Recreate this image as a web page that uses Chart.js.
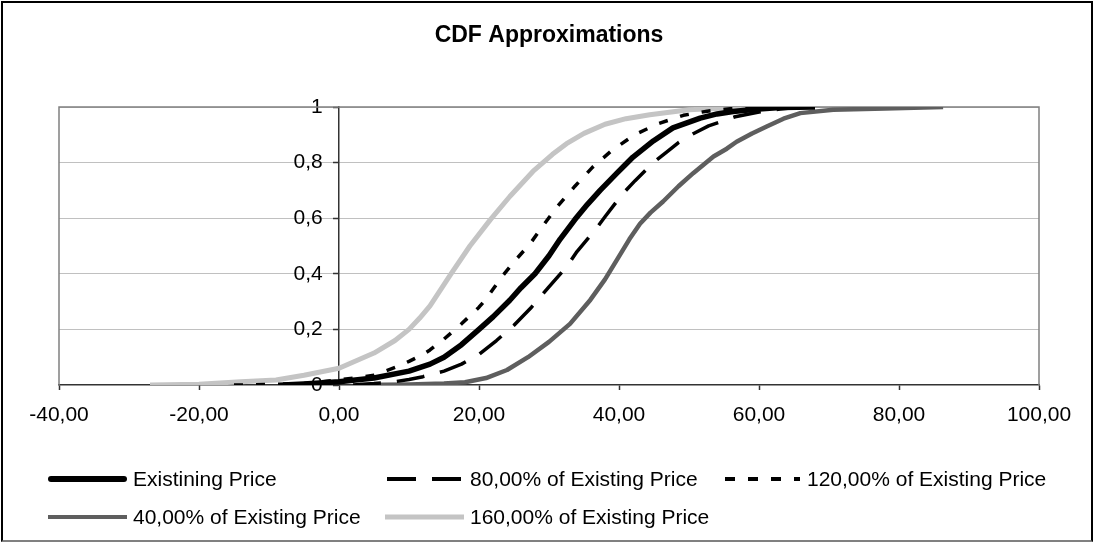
<!DOCTYPE html>
<html><head><meta charset="utf-8">
<script src="https://cdn.jsdelivr.net/npm/chart.js@4.4.1/dist/chart.umd.min.js"></script>
<style>
html,body{margin:0;padding:0;background:#fff;}
#wrap{position:relative;width:1094px;height:543px;overflow:hidden;font-family:'Liberation Sans',Arial,sans-serif;}
#frame{position:absolute;left:1px;top:1px;width:1092px;height:541px;box-sizing:border-box;border:2px solid #000;border-bottom-color:#808080;pointer-events:none;}
canvas{position:absolute;left:0;top:0;}
.lg{position:absolute;font-size:21px;line-height:24px;color:#000;white-space:nowrap;}
svg.s{position:absolute;overflow:visible;}
</style></head><body>
<div id="wrap"><canvas id="c" width="1094" height="543"></canvas><div id="legend"></div><div id="frame"></div></div>
<script>
// ---- data ----
const chartTitle = 'CDF Approximations';
const seriesNames = ['Existining Price', '80,00% of Existing Price', '120,00% of Existing Price', '40,00% of Existing Price', '160,00% of Existing Price'];
const xTickLabels = ['-40,00', '-20,00', '0,00', '20,00', '40,00', '60,00', '80,00', '100,00'];
const yTickLabels = ['0', '0,2', '0,4', '0,6', '0,8', '1'];

const existingX = [-8, -5, 0, 5, 10, 13, 15, 17.5, 20, 22, 24.4, 26, 28, 30, 31.6, 33.7, 35.5, 37.3, 39.7, 41, 42, 44.9, 47.7, 51.6, 54, 56.3, 60, 63, 68];
const existingY = [0, 0.004, 0.012, 0.025, 0.05, 0.075, 0.10, 0.145, 0.20, 0.245, 0.305, 0.35, 0.40, 0.465, 0.525, 0.595, 0.65, 0.70, 0.762, 0.795, 0.82, 0.878, 0.925, 0.96, 0.975, 0.984, 0.993, 0.998, 1];

const p80X = [2, 5, 8, 10, 12, 15, 17.5, 20, 22.5, 25, 27.5, 29.9, 32.5, 34, 36.6, 38, 40.4, 42.3, 44.9, 46.8, 48.5, 50.6, 52.8, 56.6, 60, 63, 66];
const p80Y = [0, 0.005, 0.012, 0.02, 0.03, 0.05, 0.075, 0.11, 0.16, 0.215, 0.28, 0.35, 0.425, 0.48, 0.558, 0.605, 0.684, 0.735, 0.80, 0.838, 0.872, 0.904, 0.932, 0.965, 0.982, 0.993, 1];

const p120X = [-15, -12, -5, 0, 5, 8.3, 10, 12, 13, 15, 17.5, 20, 20.9, 23.2, 25.1, 27.3, 29.2, 31.2, 33.7, 36.2, 38.9, 42.2, 45.6, 49.2, 52.6, 56, 60];
const p120Y = [0, 0.001, 0.005, 0.018, 0.035, 0.066, 0.085, 0.11, 0.126, 0.165, 0.22, 0.28, 0.306, 0.387, 0.446, 0.508, 0.575, 0.642, 0.715, 0.783, 0.842, 0.9, 0.94, 0.97, 0.985, 0.994, 1];

const p40X = [3, 10, 15, 18, 21, 24, 27, 30, 33, 35.9, 38, 39.7, 41.5, 43, 44.5, 46.3, 48.5, 50.6, 53.5, 55.4, 56.8, 59, 61.1, 63.5, 65.9, 70.6, 78, 86.3];
const p40Y = [0, 0.002, 0.005, 0.01, 0.025, 0.054, 0.10, 0.155, 0.22, 0.306, 0.38, 0.45, 0.525, 0.58, 0.62, 0.66, 0.715, 0.762, 0.822, 0.85, 0.875, 0.905, 0.93, 0.958, 0.978, 0.99, 0.995, 1];

const p160X = [-27, -20, -14, -9, -5, 0, 5, 8, 10, 11.5, 13, 16, 18.7, 21.6, 24.4, 27.7, 30.5, 32.5, 35, 38, 41, 44.4, 50, 56, 62.5];
const p160Y = [0, 0.003, 0.012, 0.018, 0.035, 0.06, 0.115, 0.16, 0.20, 0.24, 0.285, 0.40, 0.50, 0.594, 0.678, 0.768, 0.83, 0.868, 0.905, 0.938, 0.958, 0.972, 0.99, 0.997, 1];

// ---- styles ----
const FONT = 'Liberation Sans';
const styles = [
  { color: '#000000', width: 5.5, dash: [] },
  { color: '#000000', width: 3.5, dash: [28, 16] },
  { color: '#000000', width: 3.5, dash: [9, 13] },
  { color: '#5e5e5e', width: 4.5, dash: [] },
  { color: '#c4c4c4', width: 5, dash: [] }
];
const seriesX = [existingX, p80X, p120X, p40X, p160X];
const seriesY = [existingY, p80Y, p120Y, p40Y, p160Y];

const datasets = seriesNames.map((name, k) => ({
  label: name,
  data: seriesX[k].map((x, i) => ({ x: x, y: seriesY[k][i] })),
  borderColor: styles[k].color,
  borderWidth: styles[k].width,
  borderDash: styles[k].dash,
  borderJoinStyle: 'round',
  pointRadius: 0,
  tension: 0,
  fill: false,
  order: k
}));

const plotBorder = {
  id: 'plotBorder',
  beforeDatasetsDraw(chart) {
    const { ctx, chartArea: a } = chart;
    ctx.save();
    ctx.strokeStyle = '#808080';
    ctx.lineWidth = 1.5;
    ctx.beginPath();
    ctx.moveTo(a.left, a.bottom);
    ctx.lineTo(a.left, a.top);
    ctx.lineTo(a.right, a.top);
    ctx.lineTo(a.right, a.bottom);
    ctx.stroke();
    ctx.restore();
  }
};

// gap between y labels and the crossing axis (a centred axis ignores ticks.padding)
const Y_LABEL_GAP = '\u2002 ';

new Chart(document.getElementById('c'), {
  type: 'line',
  data: { datasets },
  options: {
    responsive: false,
    animation: false,
    devicePixelRatio: 1,
    layout: { padding: { left: 59, right: 55, top: 0, bottom: 101.8 } },
    plugins: {
      legend: { display: false },
      tooltip: { enabled: false },
      title: {
        display: true, text: chartTitle, color: '#000',
        font: { family: FONT, size: 23, weight: 'bold' },
        padding: { top: 22, bottom: 57.4 }
      }
    },
    scales: {
      x: {
        type: 'linear', min: -40, max: 100,
        ticks: { stepSize: 20, padding: 13, color: '#000', font: { family: FONT, size: 21 }, maxRotation: 0,
          callback: (v, i) => xTickLabels[i] },
        grid: { drawOnChartArea: false, drawTicks: true, tickLength: 5, tickColor: '#333', tickWidth: 1.5 },
        border: { display: true, color: '#333', width: 1.5 }
      },
      y: {
        type: 'linear', position: { x: 0 }, min: 0, max: 1,
        ticks: { stepSize: 0.2, padding: 10, color: '#000', font: { family: FONT, size: 21 },
          callback: (v, i) => yTickLabels[i] + Y_LABEL_GAP },
        grid: { color: c => (c.tick && c.tick.value === 0) ? 'rgba(0,0,0,0)' : '#c0c0c0', lineWidth: 1,
          drawTicks: true, tickLength: 5, tickColor: '#333', tickWidth: 1.5 },
        border: { display: true, color: '#333', width: 1.5 }
      }
    }
  },
  plugins: [plotBorder]
});

// ---- HTML legend ----
const legendSlots = [
  { sx: 48, sw: 79, tx: 133, cy: 479 },
  { sx: 387, sw: 74, tx: 470, cy: 479 },
  { sx: 725, sw: 75, tx: 807, cy: 479 },
  { sx: 48, sw: 79, tx: 133, cy: 517 },
  { sx: 385, sw: 79, tx: 470, cy: 517 }
];
const legendSample = [
  { w: 6, cap: 'round', dash: '' },
  { w: 4, cap: 'butt', dash: '29 16' },
  { w: 4, cap: 'butt', dash: '10 13' },
  { w: 4, cap: 'butt', dash: '' },
  { w: 5, cap: 'butt', dash: '' }
];
const lg = document.getElementById('legend');
seriesNames.forEach((name, k) => {
  const s = legendSlots[k], smp = legendSample[k];
  const svg = document.createElementNS('http://www.w3.org/2000/svg', 'svg');
  svg.setAttribute('class', 's');
  svg.setAttribute('width', s.sw);
  svg.setAttribute('height', 10);
  svg.style.left = s.sx + 'px';
  svg.style.top = (s.cy - 5) + 'px';
  const ln = document.createElementNS('http://www.w3.org/2000/svg', 'line');
  const inset = smp.cap === 'round' ? smp.w / 2 : 0;
  ln.setAttribute('x1', inset); ln.setAttribute('x2', s.sw - inset);
  ln.setAttribute('y1', 5); ln.setAttribute('y2', 5);
  ln.setAttribute('stroke', styles[k].color);
  ln.setAttribute('stroke-width', smp.w);
  ln.setAttribute('stroke-linecap', smp.cap);
  if (smp.dash) ln.setAttribute('stroke-dasharray', smp.dash);
  svg.appendChild(ln);
  lg.appendChild(svg);
  const t = document.createElement('div');
  t.className = 'lg';
  t.textContent = name;
  t.style.left = s.tx + 'px';
  t.style.top = (s.cy - 12) + 'px';
  lg.appendChild(t);
});
</script>
</body></html>
